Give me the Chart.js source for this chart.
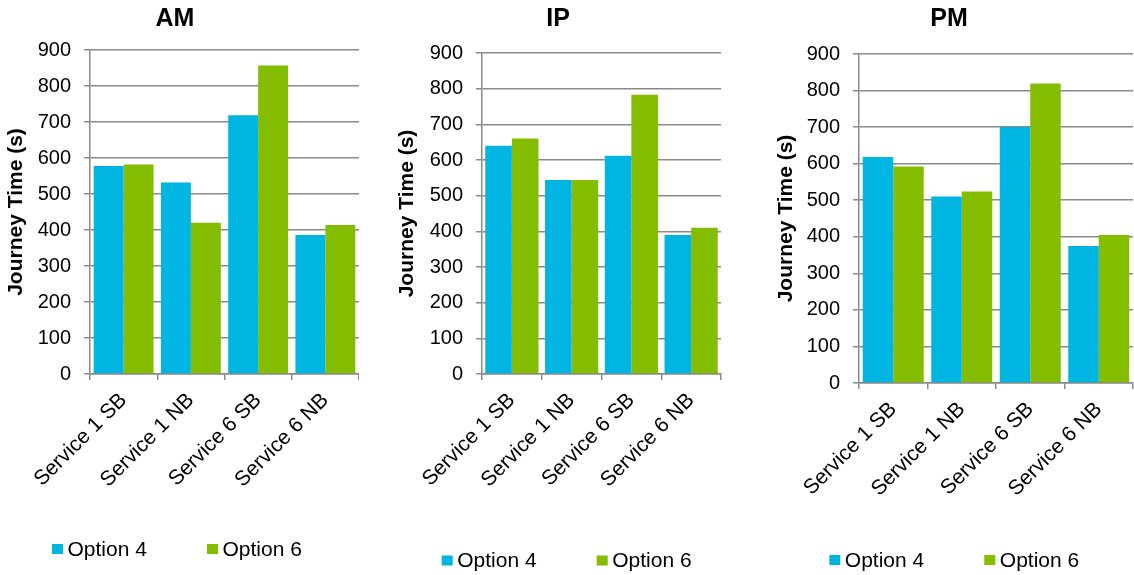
<!DOCTYPE html>
<html>
<head>
<meta charset="utf-8">
<script src="https://cdn.jsdelivr.net/npm/chart.js@4/dist/chart.umd.min.js"></script>
<style>
  html, body { margin: 0; padding: 0; background: #fff; overflow: hidden; }
  body { width: 1134px; height: 575px; position: relative; }
  canvas { position: absolute; top: 0; }
</style>
</head>
<body>
<canvas id="am"></canvas>
<canvas id="ip"></canvas>
<canvas id="pm"></canvas>
<script>
// Journey times (seconds) per service direction, by time period
const categories = ['Service 1 SB', 'Service 1 NB', 'Service 6 SB', 'Service 6 NB'];
const seriesNames = ['Option 4', 'Option 6'];
const yTicks = [0, 100, 200, 300, 400, 500, 600, 700, 800, 900];

const amOption4 = [578, 532, 719, 386];
const amOption6 = [582, 420, 857, 414];
const ipOption4 = [640, 544, 612, 390];
const ipOption6 = [660, 544, 783, 410];
const pmOption4 = [618, 510, 700, 375];
const pmOption6 = [592, 524, 819, 405];

const BLUE = '#00B5E2';
const GREEN = '#84BD00';
const GRID = '#8a8a8a';
const FONT = "'Liberation Sans', Arial, sans-serif";

Chart.defaults.font.family = FONT;
Chart.defaults.color = '#000';

// Single-row legend with a fixed pitch between entries, built from the datasets
const swatchLegend = {
  id: 'swatchLegend',
  afterDraw(chart, args, opts) {
    const ctx = chart.ctx;
    ctx.save();
    ctx.font = '21px ' + FONT;
    ctx.textBaseline = 'middle';
    ctx.textAlign = 'left';
    chart.data.datasets.forEach((ds, i) => {
      const x = opts.x + i * opts.step;
      ctx.fillStyle = ds.backgroundColor;
      ctx.fillRect(x, opts.y - 5, 11, 10);
      ctx.fillStyle = '#000';
      ctx.fillText(ds.label, x + 15.5, opts.y + 1);
    });
    ctx.restore();
  }
};

function makeChart(id, title, opt4, opt6, L) {
  const cv = document.getElementById(id);
  cv.width = L.width;
  cv.height = 575;
  cv.style.left = L.left + 'px';
  return new Chart(cv, {
    type: 'bar',
    plugins: [swatchLegend],
    data: {
      labels: categories,
      datasets: [
        { label: seriesNames[0], data: opt4, backgroundColor: BLUE, borderWidth: 0 },
        { label: seriesNames[1], data: opt6, backgroundColor: GREEN, borderWidth: 0 }
      ]
    },
    options: {
      responsive: false,
      animation: false,
      devicePixelRatio: 1,
      layout: { padding: { left: 0, right: L.padRight, top: 0, bottom: 0 } },
      datasets: { bar: { categoryPercentage: 0.89, barPercentage: 1.0 } },
      plugins: {
        tooltip: { enabled: false },
        legend: { display: false },
        swatchLegend: { x: L.legendX, y: L.legendY, step: 155 },
        title: {
          display: true,
          text: title,
          font: { size: 25, weight: 'bold', family: FONT },
          color: '#000',
          padding: { top: 4, bottom: L.titleBottom }
        }
      },
      scales: {
        x: {
          offset: true,
          grid: {
            display: true,
            offset: true,
            drawOnChartArea: false,
            drawTicks: true,
            tickLength: 6,
            color: GRID,
            lineWidth: 1.5
          },
          border: { display: true, color: GRID, width: 1.5 },
          ticks: {
            minRotation: 45,
            maxRotation: 45,
            padding: 8,
            font: { size: 21, family: FONT },
            color: '#000'
          },
          afterFit: (s) => { s.height = L.xHeight; }
        },
        y: {
          min: 0,
          max: 900,
          afterBuildTicks: (s) => { s.ticks = yTicks.map(v => ({ value: v })); },
          grid: {
            color: GRID,
            lineWidth: 1.5,
            drawTicks: true,
            tickLength: 6
          },
          border: { display: true, color: GRID, width: 1.5 },
          ticks: {
            autoSkip: false,
            padding: 13,
            font: { size: 20, family: FONT },
            color: '#000'
          },
          title: {
            display: true,
            text: 'Journey Time (s)',
            font: { size: 21, weight: 'bold', family: FONT },
            color: '#000',
            padding: { top: L.yTitlePad, bottom: 0 }
          },
          afterFit: (s) => { s.width = L.yWidth; }
        }
      }
    }
  });
}

makeChart('am', 'AM', amOption4, amOption6, {
  left: -9, width: 368, padRight: 0,
  titleBottom: 16, xHeight: 201, yWidth: 99, yTitlePad: 13,
  legendX: 61, legendY: 549
});
makeChart('ip', 'IP', ipOption4, ipOption6, {
  left: 395, width: 332, padRight: 6,
  titleBottom: 19, xHeight: 201, yWidth: 87, yTitlePad: 0,
  legendX: 46.7, legendY: 560.5
});
makeChart('pm', 'PM', pmOption4, pmOption6, {
  left: 765, width: 369, padRight: 1,
  titleBottom: 20, xHeight: 192, yWidth: 94, yTitlePad: 9,
  legendX: 64.3, legendY: 560
});
</script>
</body>
</html>
